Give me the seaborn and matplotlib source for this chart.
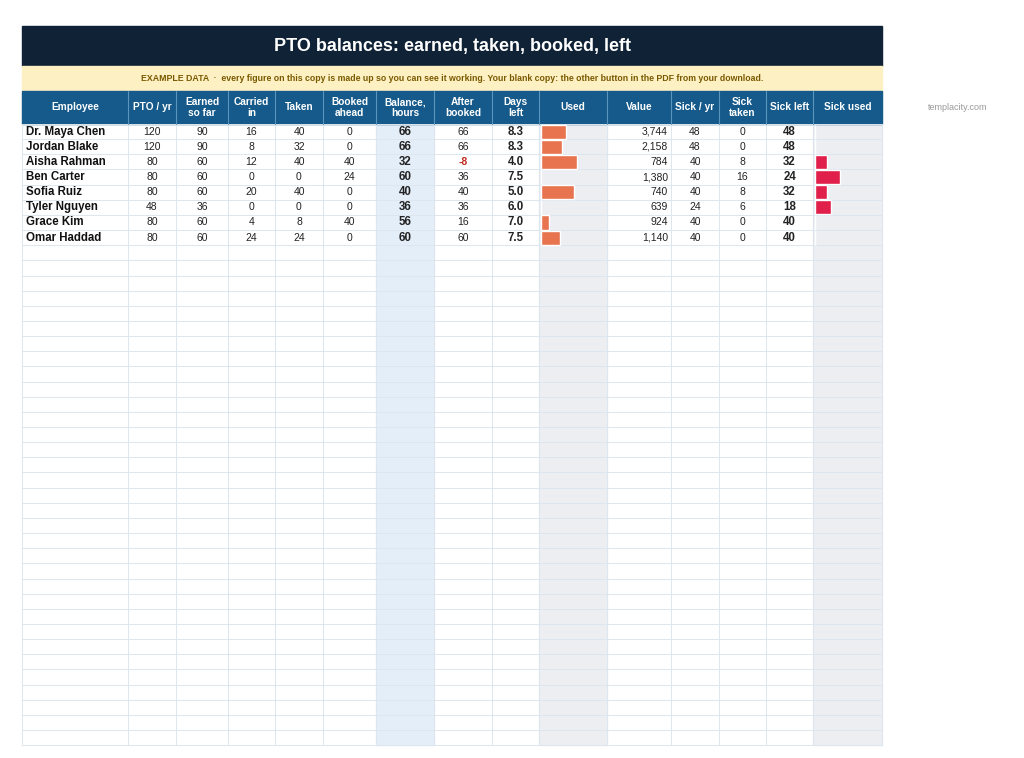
import numpy as np
import seaborn as sns
import matplotlib.pyplot as plt
from matplotlib.patches import Rectangle

# datos de la tabla
employees = ["Dr. Maya Chen", "Jordan Blake", "Aisha Rahman", "Ben Carter",
             "Sofia Ruiz", "Tyler Nguyen", "Grace Kim", "Omar Haddad"]
pto_yr = [120, 120, 80, 80, 80, 48, 80, 80]
earned = [90, 90, 60, 60, 60, 36, 60, 60]
carried = [16, 8, 12, 0, 20, 0, 4, 24]
taken = [40, 32, 40, 0, 40, 0, 8, 24]
booked = [0, 0, 40, 24, 0, 0, 40, 0]
balance = [66, 66, 32, 60, 40, 36, 56, 60]
after_booked = [66, 66, -8, 36, 40, 36, 16, 60]
days_left = [8.3, 8.3, 4.0, 7.5, 5.0, 6.0, 7.0, 7.5]
value = [3744, 2158, 784, 1380, 740, 639, 924, 1140]
sick_yr = [48, 48, 40, 40, 40, 24, 40, 40]
sick_taken = [0, 0, 8, 16, 8, 6, 0, 0]
sick_left = [48, 48, 32, 24, 32, 18, 40, 40]
headers = ["Employee", "PTO / yr", "Earned\nso far", "Carried\nin", "Taken",
           "Booked\nahead", "Balance,\nhours", "After\nbooked", "Days\nleft",
           "Used", "Value", "Sick / yr", "Sick\ntaken", "Sick left", "Sick used"]

used = np.array(taken) / (np.array(earned) + np.array(carried))
sick_used = np.array(sick_taken) / np.array(sick_yr)

# layout en pixeles
edges = [22, 128, 176, 228, 275, 323, 376, 434, 492, 539, 607, 671, 719, 766, 813, 882]
top_rows, row_h, n_rows = 124, 15.15, 41
bottom = top_rows + row_h * n_rows

sns.set_theme(style="white")
plt.rcParams['font.family'] = ['Liberation Sans', 'DejaVu Sans']
fig = plt.figure(figsize=(10.24, 7.58), dpi=100)
ax = fig.add_axes([0, 0, 1, 1])
ax.set_xlim(0, 1024)
ax.set_ylim(758, 0)
ax.axis("off")

# bandas de cabecera
ax.add_patch(Rectangle((22, 26), 860, 40, color="#0f2236"))
ax.text(452, 46, "PTO balances: earned, taken, booked, left", color="white",
        fontsize=13, fontweight="bold", ha="center", va="center")
ax.add_patch(Rectangle((22, 66), 860, 25, color="#fdf0c2"))
ax.text(452, 78.5, "EXAMPLE DATA  \u00b7  every figure on this copy is made up so you can see it working. "
        "Your blank copy: the other button in the PDF from your download.",
        color="#7a5a00", fontsize=6.3, fontweight="bold", ha="center", va="center")
ax.add_patch(Rectangle((22, 91), 860, 33, color="#155a8a"))
for i, h in enumerate(headers):
    ax.text((edges[i] + edges[i + 1]) / 2, 107.5, h, color="white", fontsize=7.3,
            fontweight="bold", ha="center", va="center", linespacing=1.05)
    if i > 0:
        ax.plot([edges[i]] * 2, [91, 124], color="#5b94bd", lw=0.8)

# columnas sombreadas
ax.add_patch(Rectangle((376, top_rows), 58, bottom - top_rows, color="#e4eef8", zorder=0))
ax.add_patch(Rectangle((539, top_rows), 68, bottom - top_rows, color="#eceef2", zorder=0))
ax.add_patch(Rectangle((813, top_rows), 69, bottom - top_rows, color="#eceef2", zorder=0))

# cuadricula
for r in range(n_rows + 1):
    y = top_rows + r * row_h
    ax.plot([22, 882], [y, y], color="#dde6ee", lw=0.7, zorder=1)
for x in edges:
    ax.plot([x, x], [top_rows, bottom], color="#dde6ee", lw=0.7, zorder=1)

# filas
cols = [pto_yr, earned, carried, taken, booked, balance, after_booked, days_left]
bold_cols = {5, 7}
for r, name in enumerate(employees):
    y = top_rows + (r + 0.5) * row_h
    ax.text(26, y, name, fontsize=8.3, fontweight="bold", va="center", color="#111111")
    for c, vals in enumerate(cols):
        v = vals[r]
        txt = f"{v:.1f}" if c == 7 else str(v)
        color = "#c0281e" if (c == 6 and v < 0) else "#222222"
        ax.text((edges[c + 1] + edges[c + 2]) / 2, y, txt, fontsize=8.3 if c in bold_cols else 7.5,
                fontweight="bold" if (c in bold_cols or color != "#222222") else "normal",
                ha="center", va="center", color=color)
    ax.text(edges[11] - 3, y, f"{value[r]:,}", fontsize=7.5, ha="right", va="center", color="#222222")
    for c, v, b in [(11, sick_yr[r], False), (12, sick_taken[r], False), (13, sick_left[r], True)]:
        ax.text((edges[c] + edges[c + 1]) / 2, y, str(v), fontsize=8.3 if b else 7.5,
                fontweight="bold" if b else "normal", ha="center", va="center", color="#222222")

# barras
ys = top_rows + (np.arange(len(employees)) + 0.5) * row_h
ax.barh(ys, used * 65, left=541, height=row_h - 1, color="#e8744f", zorder=2)
ax.barh(ys, sick_used * 62, left=815, height=row_h - 1, color="#e0204a", zorder=2)

ax.text(958, 107, "templacity.com", fontsize=6.5, color="#9a9a9a", ha="center", va="center")

fig.savefig("out.png", dpi=100)
